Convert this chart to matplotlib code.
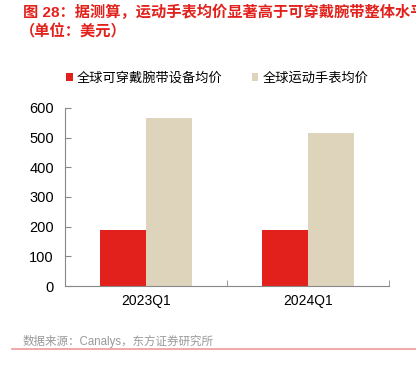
import matplotlib
matplotlib.use("Agg")
import matplotlib.pyplot as plt
import numpy as np

plt.rcParams['font.family'] = ['Liberation Sans', 'Noto Sans CJK SC', 'DejaVu Sans']

quarters = ['2023Q1', '2024Q1']
band_price = [189, 189]
watch_price = [566, 515]
series_names = ['全球可穿戴腕带设备均价', '全球运动手表均价']
title_lines = ['图 28：据测算，运动手表均价显著高于可穿戴腕带整体水平',
               '（单位：美元）']
source = '数据来源：Canalys，东方证券研究所'

red = '#E2211C'
beige = '#DED3BB'
grey = '#888888'

fig = plt.figure(figsize=(4.16, 3.67), dpi=100)
W, H = 416, 367
ax = fig.add_axes([65 / W, 1 - 286 / H, (389 - 65) / W, (286 - 108) / H])

x = np.arange(len(quarters))
w = 0.284
ax.bar(x - w / 2, band_price, w, color=red, label=series_names[0])
ax.bar(x + w / 2, watch_price, w, color=beige, label=series_names[1])

ax.set_xlim(-0.5, len(quarters) - 0.5)
ax.set_ylim(0, 600)
ax.set_yticks(range(0, 601, 100))
ax.set_xticks(x)
ax.set_xticklabels(quarters, fontsize=10)
ax.tick_params(axis='x', length=0, pad=6)
ax.set_xticks(np.arange(-0.5, len(quarters), 1), minor=True)
ax.tick_params(axis='x', which='minor', direction='in', length=4, color=grey)
ax.tick_params(axis='y', direction='in', length=4, color=grey, labelsize=10.5, pad=8)
for s in ['top', 'right']:
    ax.spines[s].set_visible(False)
for s in ['left', 'bottom']:
    ax.spines[s].set_color(grey)
    ax.spines[s].set_linewidth(0.8)

leg = ax.legend(loc='lower center', bbox_to_anchor=(0.47, 1.1), ncol=2, frameon=False,
                fontsize=9.5, handlelength=0.5, handleheight=0.5, handletextpad=0.3,
                columnspacing=2.2, borderaxespad=0)

fig.text(23 / W, 1 - 12 / H, title_lines[0], color=red, fontsize=11,
         fontweight='bold', va='center', ha='left')
fig.text(20 / W, 1 - 32 / H, title_lines[1], color=red, fontsize=11,
         fontweight='bold', va='center', ha='left')
fig.text(23 / W, 1 - 341 / H, source, color='#999999', fontsize=8.3,
         va='center', ha='left')
fig.add_artist(plt.Line2D([12 / W, 1], [1 - 349 / H, 1 - 349 / H],
                          color='#EE9A9A', linewidth=1.2))

fig.savefig('out.png', dpi=100)
